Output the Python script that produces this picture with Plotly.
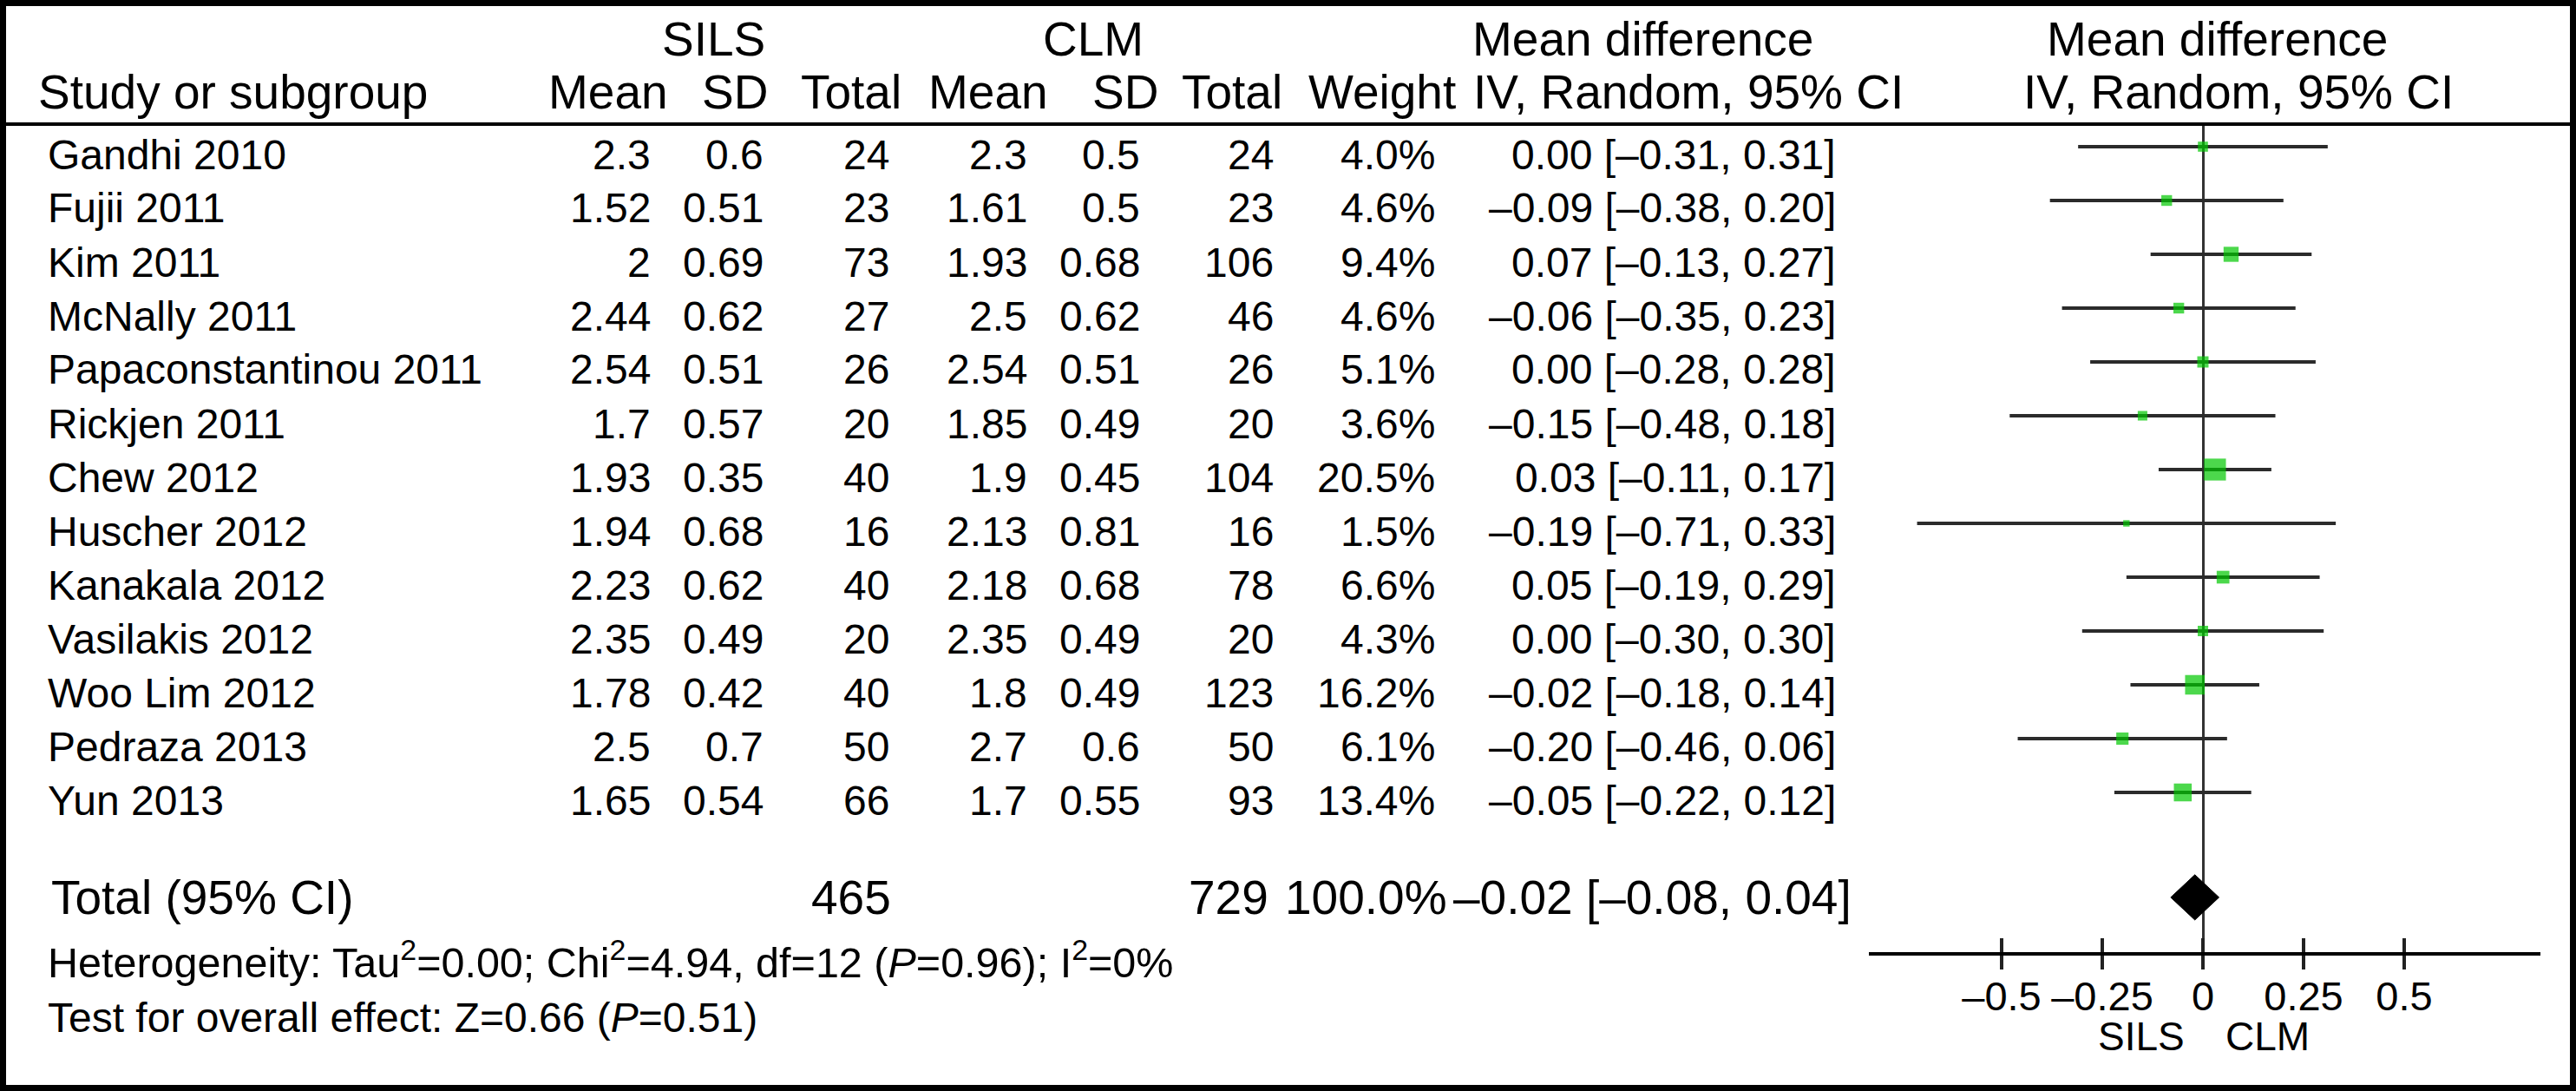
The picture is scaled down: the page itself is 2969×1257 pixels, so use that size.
import math
import plotly.graph_objects as go

# ---------------- data ----------------
studies = ["Gandhi 2010", "Fujii 2011", "Kim 2011", "McNally 2011", "Papaconstantinou 2011",
           "Rickjen 2011", "Chew 2012", "Huscher 2012", "Kanakala 2012", "Vasilakis 2012",
           "Woo Lim 2012", "Pedraza 2013", "Yun 2013"]
sils_mean = [2.3, 1.52, 2, 2.44, 2.54, 1.7, 1.93, 1.94, 2.23, 2.35, 1.78, 2.5, 1.65]
sils_sd = [0.6, 0.51, 0.69, 0.62, 0.51, 0.57, 0.35, 0.68, 0.62, 0.49, 0.42, 0.7, 0.54]
sils_n = [24, 23, 73, 27, 26, 20, 40, 16, 40, 20, 40, 50, 66]
clm_mean = [2.3, 1.61, 1.93, 2.5, 2.54, 1.85, 1.9, 2.13, 2.18, 2.35, 1.8, 2.7, 1.7]
clm_sd = [0.5, 0.5, 0.68, 0.62, 0.51, 0.49, 0.45, 0.81, 0.68, 0.49, 0.49, 0.6, 0.55]
clm_n = [24, 23, 106, 46, 26, 20, 104, 16, 78, 20, 123, 50, 93]
weight = [4.0, 4.6, 9.4, 4.6, 5.1, 3.6, 20.5, 1.5, 6.6, 4.3, 16.2, 6.1, 13.4]
md = [0.00, -0.09, 0.07, -0.06, 0.00, -0.15, 0.03, -0.19, 0.05, 0.00, -0.02, -0.20, -0.05]
ci_lo = [-0.31, -0.38, -0.13, -0.35, -0.28, -0.48, -0.11, -0.71, -0.19, -0.30, -0.18, -0.46, -0.22]
ci_hi = [0.31, 0.20, 0.27, 0.23, 0.28, 0.18, 0.17, 0.33, 0.29, 0.30, 0.14, 0.06, 0.12]

total_sils_n = 465
total_clm_n = 729
total_weight = 100.0
total_md = -0.02
total_lo = -0.08
total_hi = 0.04

heterogeneity = "Heterogeneity: Tau<sup>2</sup>=0.00; Chi<sup>2</sup>=4.94, df=12 (<i>P</i>=0.96); I<sup>2</sup>=0%"
overall_test = "Test for overall effect: Z=0.66 (<i>P</i>=0.51)"

tick_vals = [-0.5, -0.25, 0, 0.25, 0.5]
tick_text = ["\u20130.5", "\u20130.25", "0", "0.25", "0.5"]
favours_left = "SILS"
favours_right = "CLM"

# ---------------- layout constants ----------------
W, H = 2969, 1257
FONT = "Liberation Sans, Arial, Helvetica, sans-serif"
ROW0, ROWH = 169, 62           # pixel y of first study row, row pitch
TXT_DY = 9                     # text centre below CI line
HEADER_PX = 143
AXIS_PX = 1097
X_LEFT_PX, X_RIGHT_PX = 2154, 2928
ZERO_PX, PX_PER_UNIT = 2539, 464
TOTAL_ROW = 13.95

GREEN = "#00C800"
LINE = "#2b2b2b"


def fx(px):
    return px / W


def fy(py):
    return 1 - py / H


def fmt_num(v):
    return f"{v:g}"


def fmt_md(v):
    s = f"{v:.2f}"
    if s.startswith("-"):
        s = "\u2013" + s[1:]
    return s


rows = list(range(len(studies)))

fig = go.Figure()

# CI lines
cx, cy = [], []
for r, lo, hi in zip(rows, ci_lo, ci_hi):
    cx += [lo, hi, None]
    cy += [r, r, None]
fig.add_trace(go.Scatter(x=cx, y=cy, mode="lines", line=dict(color=LINE, width=4),
                         hoverinfo="skip", showlegend=False))

# weighted squares
fig.add_trace(go.Scatter(x=md, y=rows, mode="markers",
                         marker=dict(symbol="square", color=GREEN,
                                     size=[5.4 * math.sqrt(w) + 0.8 for w in weight],
                                     line=dict(width=0)),
                         showlegend=False, hoverinfo="skip"))

# pooled diamond
dh = 0.42
fig.add_trace(go.Scatter(x=[total_lo, total_md, total_hi, total_md, total_lo],
                         y=[TOTAL_ROW, TOTAL_ROW - dh, TOTAL_ROW, TOTAL_ROW + dh, TOTAL_ROW],
                         mode="lines", fill="toself", fillcolor="black",
                         line=dict(color="black", width=1), showlegend=False, hoverinfo="skip"))

# invisible trace for the second (inside-tick) axis
fig.add_trace(go.Scatter(x=[0], y=[0], xaxis="x2", yaxis="y", mode="markers",
                         marker=dict(opacity=0), showlegend=False, hoverinfo="skip"))

xr = [(X_LEFT_PX - ZERO_PX) / PX_PER_UNIT, (X_RIGHT_PX - ZERO_PX) / PX_PER_UNIT]
xdom = [fx(X_LEFT_PX), fx(X_RIGHT_PX)]
ydom = [fy(AXIS_PX), fy(HEADER_PX)]
yr = [(AXIS_PX - ROW0) / ROWH, (HEADER_PX - ROW0) / ROWH]

ann = []


def add_text(text, xpx, ypx, size, anchor="right"):
    ann.append(dict(text=text, x=fx(xpx), y=fy(ypx), xref="paper", yref="paper",
                    xanchor=anchor, yanchor="middle", showarrow=False,
                    font=dict(family=FONT, size=size, color="black")))


# headers
HS = 55
add_text("SILS", 822, 45, HS, "center")
add_text("CLM", 1260, 45, HS, "center")
add_text("Mean difference", 1695, 45, HS, "left")
add_text("Mean difference", 2555, 45, HS, "center")
add_text("Study or subgroup", 42, 106, HS, "left")
for t, x in [("Mean", 772), ("SD", 887), ("Total", 1041), ("Mean", 1210), ("SD", 1337),
             ("Total", 1480), ("Weight", 1680), ("IV, Random, 95% CI", 2196)]:
    add_text(t, x, 106, HS)
add_text("IV, Random, 95% CI", 2580, 106, HS, "center")

# study rows
DS = 48
for r in rows:
    y = ROW0 + ROWH * r + TXT_DY
    add_text(studies[r], 53, y, DS, "left")
    add_text(fmt_num(sils_mean[r]), 752, y, DS)
    add_text(fmt_num(sils_sd[r]), 882, y, DS)
    add_text(str(sils_n[r]), 1027, y, DS)
    add_text(fmt_num(clm_mean[r]), 1186, y, DS)
    add_text(fmt_num(clm_sd[r]), 1316, y, DS)
    add_text(str(clm_n[r]), 1470, y, DS)
    add_text(f"{weight[r]:.1f}%", 1656, y, DS)
    add_text(f"{fmt_md(md[r])} [{fmt_md(ci_lo[r])}, {fmt_md(ci_hi[r])}]", 2118, y, DS)

# total row
TY = 1034
TS = 55
add_text("Total (95% CI)", 57, TY, TS, "left")
add_text(str(total_sils_n), 1029, TY, TS)
add_text(str(total_clm_n), 1464, TY, TS)
add_text(f"{total_weight:.1f}%", 1670, TY, TS)
add_text(f"{fmt_md(total_md)} [{fmt_md(total_lo)}, {fmt_md(total_hi)}]", 1673, TY, TS, "left")

add_text(heterogeneity, 53, 1105, 48.5, "left")
add_text(overall_test, 53, 1172, 48, "left")

# favours labels
ann.append(dict(text=favours_left, x=-0.041, y=fy(1194), xref="x", yref="paper",
                xanchor="right", yanchor="middle", showarrow=False,
                font=dict(family=FONT, size=46, color="black")))
ann.append(dict(text=favours_right, x=0.052, y=fy(1194), xref="x", yref="paper",
                xanchor="left", yanchor="middle", showarrow=False,
                font=dict(family=FONT, size=46, color="black")))

shapes = [
    dict(type="rect", xref="paper", yref="paper", x0=fx(3.5), x1=1 - fx(3.5),
         y0=3.5 / H, y1=1 - 3.5 / H, line=dict(color="black", width=7)),
    dict(type="line", xref="paper", yref="paper", x0=fx(7), x1=1 - fx(7),
         y0=fy(HEADER_PX), y1=fy(HEADER_PX), line=dict(color="black", width=4)),
]

fig.update_layout(
    width=W, height=H, margin=dict(l=0, r=0, t=0, b=0),
    paper_bgcolor="white", plot_bgcolor="white",
    showlegend=False,
    xaxis=dict(domain=xdom, range=xr, anchor="y", showline=True, linecolor="black",
               linewidth=4, ticks="outside", ticklen=16, tickwidth=4, tickcolor="#222",
               tickvals=tick_vals, ticktext=tick_text, ticklabelstandoff=-9,
               tickfont=dict(family=FONT, size=47, color="black"),
               zeroline=True, zerolinecolor="#333", zerolinewidth=3, showgrid=False,
               fixedrange=True),
    xaxis2=dict(overlaying="x", domain=xdom, range=xr, anchor="y", ticks="inside",
                ticklen=16, tickwidth=4, tickcolor="#222", tickvals=tick_vals,
                showticklabels=False, showline=False, showgrid=False, zeroline=False,
                fixedrange=True),
    yaxis=dict(domain=ydom, range=yr, visible=False, showgrid=False, zeroline=False,
               fixedrange=True),
    annotations=ann,
    shapes=shapes,
)

fig.write_html("out.html", config={"displayModeBar": False},
               post_script="document.body.style.margin='0';document.body.style.overflow='hidden';")
